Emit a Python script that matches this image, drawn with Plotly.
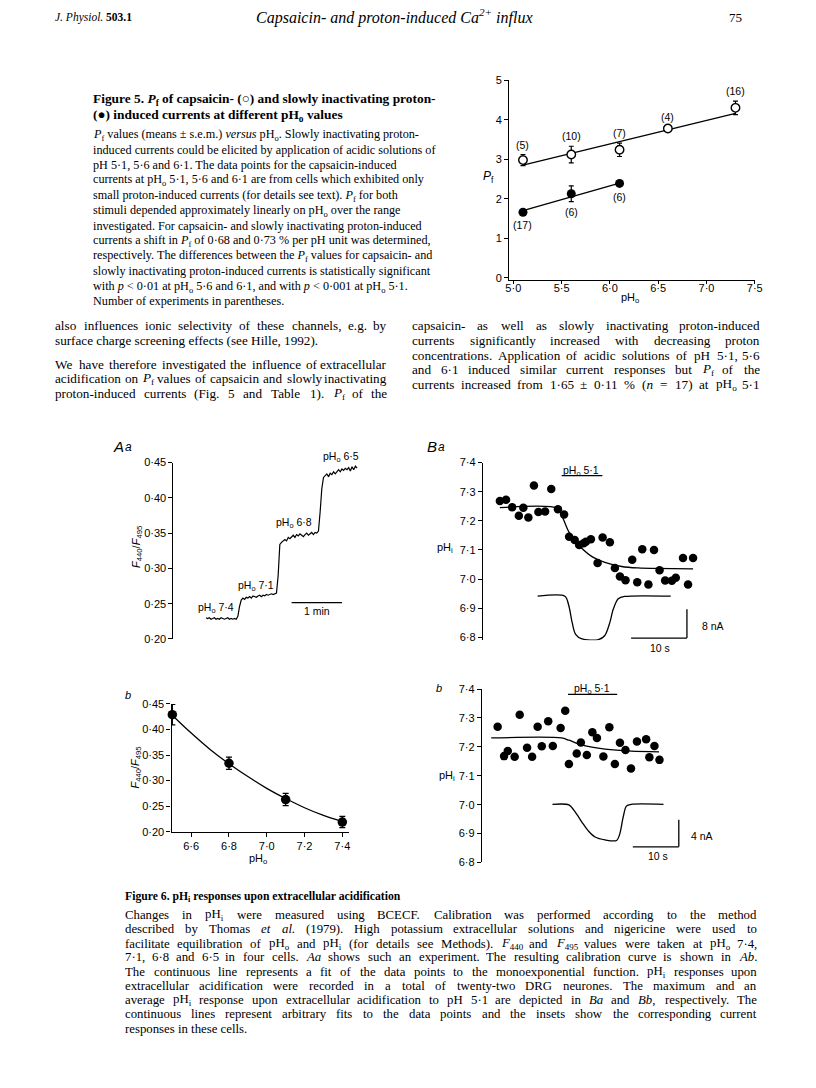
import re
import plotly.graph_objects as go

W, H = 816, 1088
SANS = "Liberation Sans, Arial, sans-serif"
SERIF = "Liberation Serif, Times New Roman, serif"

# ---------------- Figure 5 data ----------------
ph_caps = [5.1, 5.6, 6.1, 6.6, 7.3]
pf_caps = [2.98, 3.12, 3.24, 3.78, 4.30]
pf_caps_err = [0.14, 0.21, 0.17, 0.03, 0.17]
n_caps = ["(5)", "(10)", "(7)", "(4)", "(16)"]
ph_prot = [5.1, 5.6, 6.1]
pf_prot = [1.66, 2.13, 2.39]
pf_prot_err = [0.05, 0.20, 0.07]
n_prot = ["(17)", "(6)", "(6)"]
fit_caps_ph = [5.1, 7.3]
fit_caps_pf = [2.85, 4.16]
fit_prot_ph = [5.1, 6.1]
fit_prot_pf = [1.70, 2.40]
fig5_x_ticks = [5.0, 5.5, 6.0, 6.5, 7.0, 7.5]
fig5_x_text = ["5·0", "5·5", "6·0", "6·5", "7·0", "7·5"]
fig5_y_ticks = [0, 1, 2, 3, 4, 5]
fig5_y_text = ["0", "1", "2", "3", "4", "5"]

# ---------------- Figure 6 Aa: ratio trace (2 s samples) ----------------
aa_ratio = [0.230, 0.229, 0.230, 0.228, 0.229, 0.230, 0.228, 0.229, 0.228, 0.230,
            0.229, 0.228, 0.229, 0.230, 0.228, 0.229, 0.228, 0.229, 0.228,
            0.232, 0.246, 0.255, 0.258, 0.256, 0.259, 0.258, 0.260, 0.258, 0.261,
            0.260, 0.259, 0.261, 0.262, 0.260, 0.262, 0.261, 0.263, 0.262, 0.263,
            0.264, 0.263, 0.264, 0.265,
            0.290, 0.334, 0.337, 0.339, 0.341, 0.339, 0.344, 0.342, 0.345, 0.347,
            0.344, 0.348, 0.346, 0.349, 0.347, 0.345, 0.348, 0.350, 0.347, 0.349,
            0.351, 0.348, 0.351, 0.350, 0.353,
            0.380, 0.413, 0.429, 0.432, 0.434, 0.430, 0.435, 0.433, 0.437, 0.434,
            0.438, 0.440, 0.437, 0.441, 0.439, 0.442, 0.440, 0.443, 0.438, 0.444,
            0.440, 0.445, 0.442]
aa_sample_s = 2
aa_time = [aa_sample_s * i for i in range(len(aa_ratio))]
aa_labels = ["pH<sub>o</sub> 7·4", "pH<sub>o</sub> 7·1", "pH<sub>o</sub> 6·8", "pH<sub>o</sub> 6·5"]
ratio_ticks = [0.20, 0.25, 0.30, 0.35, 0.40, 0.45]
ratio_text = ["0·20", "0·25", "0·30", "0·35", "0·40", "0·45"]

# ---------------- Figure 6 Ab: calibration ----------------
ph_cal = [6.5, 6.8, 7.1, 7.4]
ratio_cal = [0.429, 0.334, 0.263, 0.219]
ratio_cal_err = [0.020, 0.012, 0.012, 0.011]
fit_cal_ph = [6.5, 6.6, 6.7, 6.8, 6.9, 7.0, 7.1, 7.2, 7.3, 7.4]
fit_cal_ratio = [0.428, 0.393, 0.361, 0.333, 0.308, 0.285, 0.265, 0.247, 0.232, 0.220]
ab_x_ticks = [6.6, 6.8, 7.0, 7.2, 7.4]
ab_x_text = ["6·6", "6·8", "7·0", "7·2", "7·4"]

# ---------------- Figure 6 Ba ----------------
ba_t = [0.0, 1.1, 2.2, 3.4, 4.2, 5.1, 6.1, 6.9, 8.1, 9.2, 10.4, 11.5, 12.4, 13.4, 14.2,
        15.0, 15.4, 16.3, 17.5, 18.4, 19.7, 20.6, 21.5, 22.5, 23.7, 24.6, 25.5, 26.6,
        27.6, 28.6, 29.6, 30.8, 31.5, 32.8, 33.7, 34.6]
ba_phi = [7.268, 7.272, 7.247, 7.217, 7.245, 7.211, 7.321, 7.230, 7.232, 7.309, 7.240,
          7.222, 7.145, 7.134, 7.117, 7.123, 7.128, 7.137, 7.055, 7.143, 7.126, 7.038,
          7.009, 6.996, 7.066, 6.989, 7.102, 6.981, 7.100, 7.030, 6.995, 6.994, 7.004,
          7.072, 6.981, 7.072]
ba_fit_t = [0.0, 10.3, 11.2, 12.35, 14.1, 16.5, 18.8, 21.8, 24.7, 34.6]
ba_fit_phi = [7.245, 7.243, 7.213, 7.162, 7.117, 7.077, 7.057, 7.043, 7.038, 7.035]
ba_cur_t = [6.76, 11.65, 12.35, 12.94, 13.53, 14.7, 17.65, 18.8, 19.7, 20.3, 21.2, 22.35, 30.6]
ba_cur_y = [6.941, 6.941, 6.908, 6.851, 6.811, 6.794, 6.792, 6.806, 6.851, 6.896, 6.932, 6.940, 6.941]

# ---------------- Figure 6 Bb ----------------
bb_t = [0.0, 1.4, 2.2, 3.7, 4.8, 6.4, 7.5, 8.7, 9.6, 11.0, 12.0, 13.7, 14.7, 15.5, 17.2,
        18.1, 19.4, 20.6, 21.6, 23.0, 24.3, 25.5, 26.6, 27.8, 29.0, 30.3, 32.3, 33.0,
        34.1, 35.2]
bb_phi = [7.270, 7.168, 7.186, 7.166, 7.311, 7.197, 7.166, 7.270, 7.202, 7.289, 7.203,
          7.265, 7.325, 7.141, 7.177, 7.215, 7.172, 7.251, 7.231, 7.167, 7.268, 7.141,
          7.214, 7.189, 7.125, 7.219, 7.226, 7.164, 7.203, 7.155]
bb_fit_t = [-1.4, 13.9, 15.5, 18.4, 23.4, 29.1, 35.1]
bb_fit_phi = [7.231, 7.231, 7.223, 7.206, 7.192, 7.185, 7.183]
bb_cur_t = [11.93, 15.5, 16.93, 18.36, 19.79, 21.2, 23.36, 25.86, 26.57, 27.29, 28.0, 29.07, 36.07]
bb_cur_y = [7.001, 6.999, 6.973, 6.939, 6.908, 6.888, 6.878, 6.876, 6.899, 6.956, 6.995, 7.001, 7.001]
phi_ticks = [6.8, 6.9, 7.0, 7.1, 7.2, 7.3, 7.4]
phi_text = ["6·8", "6·9", "7·0", "7·1", "7·2", "7·3", "7·4"]

# ---------------- page text ----------------
fig5_title = ["<b>Figure 5. <i>P</i><sub>f</sub> of capsaicin- (○) and slowly inactivating proton-</b>",
              "<b>(●) induced currents at different pH<sub>o</sub> values</b>"]
fig5_body = [
    "<i>P</i><sub>f</sub> values (means ± s.e.m.) <i>versus</i> pH<sub>o</sub>. Slowly inactivating proton-",
    "induced currents could be elicited by application of acidic solutions of",
    "pH 5·1, 5·6 and 6·1. The data points for the capsaicin-induced",
    "currents at pH<sub>o</sub> 5·1, 5·6 and 6·1 are from cells which exhibited only",
    "small proton-induced currents (for details see text). <i>P</i><sub>f</sub> for both",
    "stimuli depended approximately linearly on pH<sub>o</sub> over the range",
    "investigated. For capsaicin- and slowly inactivating proton-induced",
    "currents a shift in <i>P</i><sub>f</sub> of 0·68 and 0·73 % per pH unit was determined,",
    "respectively. The differences between the <i>P</i><sub>f</sub> values for capsaicin- and",
    "slowly inactivating proton-induced currents is statistically significant",
    "with <i>p</i> &lt; 0·01 at pH<sub>o</sub> 5·6 and 6·1, and with <i>p</i> &lt; 0·001 at pH<sub>o</sub> 5·1.",
    "Number of experiments in parentheses.",
]
left_col = [
    ("also influences ionic selectivity of these channels, e.g. by", True),
    ("surface charge screening effects (see Hille, 1992).", False),
    ("We have therefore investigated the influence of extracellular", True),
    ("acidification on <i>P</i><sub>f</sub> values of capsaicin and slowly inactivating", True),
    ("proton-induced currents (Fig. 5 and Table 1). <i>P</i><sub>f</sub> of the", True),
]
right_col = [
    ("capsaicin- as well as slowly inactivating proton-induced", True),
    ("currents significantly increased with decreasing proton", True),
    ("concentrations. Application of acidic solutions of pH 5·1, 5·6", True),
    ("and 6·1 induced similar current responses but <i>P</i><sub>f</sub> of the", True),
    ("currents increased from 1·65 ± 0·11 % (<i>n</i> = 17) at pH<sub>o</sub> 5·1", True),
]
fig6_title = "<b>Figure 6. pH<sub>i</sub> responses upon extracellular acidification</b>"
fig6_body = [
    ("Changes in pH<sub>i</sub> were measured using BCECF. Calibration was performed according to the method", True),
    ("described by Thomas <i>et</i> <i>al.</i> (1979). High potassium extracellular solutions and nigericine were used to", True),
    ("facilitate equilibration of pH<sub>o</sub> and pH<sub>i</sub> (for details see Methods). <i>F</i><sub>440</sub> and <i>F</i><sub>495</sub> values were taken at pH<sub>o</sub> 7·4,", True),
    ("7·1, 6·8 and 6·5 in four cells. <i>Aa</i> shows such an experiment. The resulting calibration curve is shown in <i>Ab</i>.", True),
    ("The continuous line represents a fit of the data points to the monoexponential function. pH<sub>i</sub> responses upon", True),
    ("extracellular acidification were recorded in a total of twenty-two DRG neurones. The maximum and an", True),
    ("average pH<sub>i</sub> response upon extracellular acidification to pH 5·1 are depicted in <i>Ba</i> and <i>Bb</i>, respectively. The", True),
    ("continuous lines represent arbitrary fits to the data points and the insets show the corresponding current", True),
    ("responses in these cells.", False),
]

# ---------------- subplot geometry (page pixels / axis ranges) ----------------
GEOM = {
    "": dict(x=(512.7, 762.0), xr=(4.957, 7.5), y=(277.0, 75.0), yr=(-0.05, 5.0)),
    "2": dict(x=(172.0, 362.0), xr=(-38.7, 184.3), y=(640.0, 461.7), yr=(0.2, 0.45)),
    "3": dict(x=(170.0, 350.0), xr=(6.4957, 7.4346), y=(835.0, 705.7), yr=(0.2, 0.45)),
    "4": dict(x=(486.0, 760.0), xr=(-3.05, 45.3), y=(641.2, 461.7), yr=(6.79, 7.4)),
    "5": dict(x=(485.0, 760.0), xr=(-3.43, 55.5), y=(866.0, 690.7), yr=(6.8, 7.4)),
}


def px(x):
    return x / W


def py(y):
    return 1 - y / H


def page(sub, x, y):
    g = GEOM[sub]
    X = g["x"][0] + (x - g["xr"][0]) / (g["xr"][1] - g["xr"][0]) * (g["x"][1] - g["x"][0])
    Y = g["y"][0] - (y - g["yr"][0]) / (g["yr"][1] - g["yr"][0]) * (g["y"][0] - g["y"][1])
    return X, Y


anns = []
shapes = []


def note(text, x, y, size=11, family=SANS, xanchor="center", yanchor="middle", angle=0):
    anns.append(dict(text=text, x=px(x), y=py(y), xref="paper", yref="paper", xanchor=xanchor,
                     yanchor=yanchor, showarrow=False, textangle=angle, borderpad=0, borderwidth=0,
                     font=dict(family=family, size=size, color="black")))


def dnote(text, sub, x, y, size=10.5, xanchor="center"):
    X, Y = page(sub, x, y)
    note(text, X, Y, size=size, xanchor=xanchor)


TW = {}
for ch, w in zip("abcdefghijklmnopqrstuvwxyz",
                 [444, 500, 444, 500, 444, 333, 500, 500, 278, 278, 500, 278, 778, 500, 500, 500,
                  500, 333, 389, 278, 500, 500, 722, 500, 500, 444]):
    TW[ch] = w
for ch, w in zip("ABCDEFGHIJKLMNOPQRSTUVWXYZ",
                 [722, 667, 667, 722, 611, 556, 722, 722, 333, 389, 722, 611, 889, 722, 722, 556,
                  722, 667, 556, 611, 722, 722, 944, 722, 722, 611]):
    TW[ch] = w
for ch in "0123456789":
    TW[ch] = 500
TW.update({" ": 250, ".": 250, ",": 250, "·": 250, "-": 333, "(": 333, ")": 333, "%": 833,
           "±": 564, "<": 564, "=": 564, "+": 564, "/": 278, ":": 278, ";": 278})


def width(s, size):
    s = s.replace("&lt;", "<")
    total, scale = 0.0, 1.0
    for tok in re.split(r"(<[^<>]*>)", s):
        if len(tok) > 1 and tok.startswith("<") and tok.endswith(">"):
            t = tok.lower()
            if t in ("<sub>", "<sup>"):
                scale = 0.7
            elif t in ("</sub>", "</sup>"):
                scale = 1.0
            continue
        for ch in tok:
            total += TW.get(ch, 500) * scale
    return total * size / 1000.0


def text_line(text, x0, y, size, x1=None, family=SERIF):
    if x1 is None:
        note(text, x0, y, size=size, family=family, xanchor="left")
        return
    words = text.split(" ")
    ws = [width(w, size) for w in words]
    gap = (x1 - x0 - sum(ws)) / max(len(words) - 1, 1)
    x = x0
    for i, (w, wd) in enumerate(zip(words, ws)):
        if i == len(words) - 1:
            note(w, x1, y, size=size, family=family, xanchor="right")
        else:
            note(w, x, y, size=size, family=family, xanchor="left")
        x += wd + gap


def seg(sub, x0, y0, x1, y1, w=1.3):
    shapes.append(dict(type="line", xref="x" + sub, yref="y" + sub, x0=x0, y0=y0, x1=x1, y1=y1,
                       line=dict(color="black", width=w)))


def axstyle(**kw):
    d = dict(showgrid=False, zeroline=False, showline=True, linecolor="black", linewidth=1.2,
             ticks="outside", ticklen=4, tickwidth=1.2, tickcolor="black",
             tickfont=dict(family=SANS, size=11, color="black"), fixedrange=True)
    d.update(kw)
    return d


def dom(sub):
    g = GEOM[sub]
    return dict(x=[px(g["x"][0]), px(g["x"][1])], y=[py(g["y"][0]), py(g["y"][1])],
                xr=list(g["xr"]), yr=list(g["yr"]))


LINE = dict(color="black", width=1.3)
fig = go.Figure()

# ---------------- Figure 5 traces ----------------
fig.add_trace(go.Scatter(x=fit_caps_ph, y=fit_caps_pf, mode="lines", line=LINE, xaxis="x", yaxis="y"))
fig.add_trace(go.Scatter(x=fit_prot_ph, y=fit_prot_pf, mode="lines", line=LINE, xaxis="x", yaxis="y"))
fig.add_trace(go.Scatter(x=ph_caps, y=pf_caps, mode="markers", xaxis="x", yaxis="y", cliponaxis=False,
                         marker=dict(symbol="circle", size=8.5, color="white", line=dict(color="black", width=1.4)),
                         error_y=dict(type="data", array=pf_caps_err, color="black", thickness=1.2, width=2.5)))
fig.add_trace(go.Scatter(x=ph_prot, y=pf_prot, mode="markers", xaxis="x", yaxis="y", cliponaxis=False,
                         marker=dict(symbol="circle", size=9, color="black"),
                         error_y=dict(type="data", array=pf_prot_err, color="black", thickness=1.2, width=2.5)))
for xv, yv, e, lab in zip(ph_caps, pf_caps, pf_caps_err, n_caps):
    dnote(lab, "", xv, yv + e + 0.25)
for xv, yv, e, lab in zip(ph_prot, pf_prot, pf_prot_err, n_prot):
    dnote(lab, "", xv, yv - e - 0.27)
note("<i>P</i><sub>f</sub>", 492, 173, size=12)
note("pH<sub>o</sub>", 635, 295, size=11)

# ---------------- Aa ----------------
fig.add_trace(go.Scatter(x=aa_time, y=aa_ratio, mode="lines", line=dict(color="black", width=1.2),
                         xaxis="x2", yaxis="y2"))
aa_label_pos = [(11.7, 0.2435), (59.5, 0.2747), (104.5, 0.3645), (161.2, 0.4584)]
for lab, (xv, yv) in zip(aa_labels, aa_label_pos):
    dnote(lab, "2", xv, yv)
seg("2", 102, 0.2515, 162, 0.2515)
dnote("1 min", "2", 131.8, 0.2397)
note("<i>A</i>", 116, 445, size=15)
note("<i>a</i>", 126, 446, size=12)
note("<i>F</i><sub>440</sub>/<i>F</i><sub>495</sub>", 135, 547, size=11, angle=-90)

# ---------------- Ab ----------------
fig.add_trace(go.Scatter(x=fit_cal_ph, y=fit_cal_ratio, mode="lines", line=dict(color="black", width=1.3, shape="spline"),
                         xaxis="x3", yaxis="y3"))
fig.add_trace(go.Scatter(x=ph_cal, y=ratio_cal, mode="markers", xaxis="x3", yaxis="y3", cliponaxis=False,
                         marker=dict(symbol="circle", size=9.5, color="black"),
                         error_y=dict(type="data", array=ratio_cal_err, color="black", thickness=1.3, width=3)))
note("<i>b</i>", 126, 697, size=11)
note("<i>F</i><sub>440</sub>/<i>F</i><sub>495</sub>", 133, 770, size=11, angle=-90)
note("pH<sub>o</sub>", 258, 863, size=11)

# ---------------- Ba ----------------
SPL = dict(color="black", width=1.3, shape="spline", smoothing=0.8)
fig.add_trace(go.Scatter(x=ba_fit_t, y=ba_fit_phi, mode="lines", line=SPL, xaxis="x4", yaxis="y4"))
fig.add_trace(go.Scatter(x=ba_cur_t, y=ba_cur_y, mode="lines", line=SPL, xaxis="x4", yaxis="y4"))
fig.add_trace(go.Scatter(x=ba_t, y=ba_phi, mode="markers", xaxis="x4", yaxis="y4", cliponaxis=False,
                         marker=dict(symbol="circle", size=8.5, color="black")))
seg("4", 11.06, 7.355, 18.35, 7.355)
dnote("pH<sub>o</sub> 5·1", "4", 14.6, 7.372)
seg("4", 23.5, 6.797, 33.5, 6.797)
seg("4", 33.5, 6.797, 33.5, 6.896)
dnote("8 nA", "4", 36.2, 6.84, xanchor="left")
dnote("10 s", "4", 28.7, 6.763)
note("<i>B</i>", 434, 445, size=15)
note("<i>a</i>", 444, 446, size=12)
note("pH<sub>i</sub>", 448, 548, size=11)

# ---------------- Bb ----------------
fig.add_trace(go.Scatter(x=bb_fit_t, y=bb_fit_phi, mode="lines", line=SPL, xaxis="x5", yaxis="y5"))
fig.add_trace(go.Scatter(x=bb_cur_t, y=bb_cur_y, mode="lines", line=SPL, xaxis="x5", yaxis="y5"))
fig.add_trace(go.Scatter(x=bb_t, y=bb_phi, mode="markers", xaxis="x5", yaxis="y5", cliponaxis=False,
                         marker=dict(symbol="circle", size=8.5, color="black")))
seg("5", 15.3, 7.382, 26.0, 7.382)
dnote("pH<sub>o</sub> 5·1", "5", 20.6, 7.402)
seg("5", 29.4, 6.854, 39.4, 6.854)
seg("5", 39.4, 6.854, 39.4, 6.948)
dnote("4 nA", "5", 42.0, 6.891, xanchor="left")
dnote("10 s", "5", 34.8, 6.823)
note("<i>b</i>", 441, 690, size=11)
note("pH<sub>i</sub>", 450, 779, size=11)

# ---------------- page text ----------------
note("<i>J. Physiol.</i> <b>503.1</b>", 52, 12, size=11.5, family=SERIF, xanchor="left")
note("<i>Capsaicin- and proton-induced Ca<sup>2+</sup> influx</i>", 396, 11, size=16, family=SERIF)
note("75", 742, 12, size=13, family=SERIF)

for t, yv in zip(fig5_title, [95, 111]):
    text_line(t, 90, yv, 13.4)
fig5_y = [130, 146, 161, 176, 192, 207, 222, 238, 253, 268, 284, 298]
for t, yv in zip(fig5_body, fig5_y):
    text_line(t, 90, yv, 12.2)

for (t, j), yv in zip(left_col, [323, 338, 362, 377, 392]):
    text_line(t, 52, yv, 13.2, x1=389 if j else None)
for (t, j), yv in zip(right_col, [323, 338, 353, 368, 383]):
    text_line(t, 414, yv, 13.2, x1=767 if j else None)

text_line(fig6_title, 123, 901, 11.7)
fig6_y = [919, 933.5, 948, 962, 976.5, 991, 1005, 1019.5, 1034]
for (t, j), yv in zip(fig6_body, fig6_y):
    text_line(t, 123, yv, 12.8, x1=764 if j else None)

# ---------------- layout ----------------
d1, d2, d3, d4, d5 = dom(""), dom("2"), dom("3"), dom("4"), dom("5")
fig.update_layout(
    width=W, height=H, margin=dict(l=0, r=0, t=0, b=0),
    paper_bgcolor="white", plot_bgcolor="rgba(0,0,0,0)", showlegend=False, hovermode=False,
    font=dict(family=SANS, color="black"),
    xaxis=axstyle(domain=d1["x"], range=d1["xr"], anchor="y", tickvals=fig5_x_ticks, ticktext=fig5_x_text, ticklen=3),
    yaxis=axstyle(domain=d1["y"], range=d1["yr"], anchor="x", tickvals=fig5_y_ticks, ticktext=fig5_y_text),
    xaxis2=dict(domain=d2["x"], range=d2["xr"], anchor="y2", visible=False, fixedrange=True),
    yaxis2=axstyle(domain=d2["y"], range=d2["yr"], anchor="x2", tickvals=ratio_ticks, ticktext=ratio_text),
    xaxis3=axstyle(domain=d3["x"], range=d3["xr"], anchor="y3", tickvals=ab_x_ticks, ticktext=ab_x_text),
    yaxis3=axstyle(domain=d3["y"], range=d3["yr"], anchor="x3", tickvals=ratio_ticks, ticktext=ratio_text),
    xaxis4=dict(domain=d4["x"], range=d4["xr"], anchor="y4", visible=False, fixedrange=True),
    yaxis4=axstyle(domain=d4["y"], range=d4["yr"], anchor="x4", tickvals=phi_ticks, ticktext=phi_text),
    xaxis5=dict(domain=d5["x"], range=d5["xr"], anchor="y5", visible=False, fixedrange=True),
    yaxis5=axstyle(domain=d5["y"], range=d5["yr"], anchor="x5", tickvals=phi_ticks, ticktext=phi_text),
    annotations=anns,
    shapes=shapes,
)
try:
    fig.update_layout(xaxis_ticklabelstandoff=-5)
except Exception:
    pass

fig.write_html("out.html", config={"displayModeBar": False},
               post_script="document.body.style.margin='0px';document.documentElement.style.overflow='hidden';")
